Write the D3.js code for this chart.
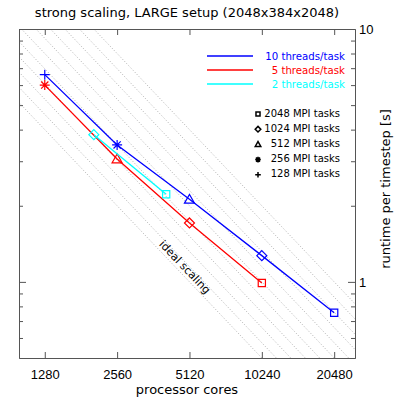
<!DOCTYPE html>
<html>
<head>
<meta charset="utf-8">
<script src="https://cdn.jsdelivr.net/npm/d3@7"></script>
<style>
  body { margin: 0; background: #fff; }
  svg { display: block; font-family: "DejaVu Sans", sans-serif; }
  .axis path, .axis line { stroke: #555; }
  .axis text { font-size: 13px; fill: #000; }
</style>
</head>
<body>
<div id="chart"></div>
<script>
"use strict";

// measured runtimes, one list per threads/task setting
var cores10 = [1280, 2560, 5120, 10240, 20480];
var runtime10 = [6.6, 3.48, 2.12, 1.27, 0.755];
var tasks10 = [128, 256, 512, 1024, 2048];

var cores5 = [1280, 2560, 5120, 10240];
var runtime5 = [6.0, 3.06, 1.71, 0.99];
var tasks5 = [256, 512, 1024, 2048];

var cores2 = [2048, 4096];
var runtime2 = [3.82, 2.22];
var tasks2 = [1024, 2048];

var seriesNames = ['10 threads/task', '5 threads/task', '2 threads/task'];
var seriesColors = ['#0000ff', '#ff0000', '#00ffff'];

var legendTasks = [2048, 1024, 512, 256, 128];

var xTicks = [1280, 2560, 5120, 10240, 20480];
var yMajor = [1, 10];
var yMinor = [0.6, 0.7, 0.8, 0.9, 2, 3, 4, 5, 6, 7, 8, 9];

// constants C of the ideal scaling lines, runtime = C / cores
var idealConst = [5120, 5881, 6756, 7761, 8914, 10240, 11763, 13512, 15521, 17829, 20480];

var W = 399, H = 399;
var L = 19, R = 355, T = 29, B = 358;

var svg = d3.select('#chart').append('svg').attr('width', W).attr('height', H);

var x = d3.scaleLog().domain([1000, 25000]).range([L, R]);
var y = d3.scaleLog().domain([0.5, 10]).range([B, T]);

svg.append('clipPath').attr('id', 'clip')
  .append('rect').attr('x', L).attr('y', T).attr('width', R - L).attr('height', B - T);

var plot = svg.append('g').attr('clip-path', 'url(#clip)');

// ideal scaling guide lines
var xd = x.domain();
plot.selectAll('.ideal').data(idealConst).enter().append('line')
  .attr('class', 'ideal')
  .attr('x1', x(xd[0])).attr('y1', function(c) { return y(c / xd[0]); })
  .attr('x2', x(xd[1])).attr('y2', function(c) { return y(c / xd[1]); })
  .attr('stroke', '#999').attr('stroke-width', 0.8).attr('stroke-dasharray', '1,2');

var angle = Math.atan2(y(1) - y(10), x(10000) - x(1000)) * 180 / Math.PI;
svg.append('text')
  .attr('transform', 'translate(185,267) rotate(' + angle + ')')
  .attr('text-anchor', 'middle').attr('dy', '0.35em')
  .style('font-size', '11px')
  .text('ideal scaling');

function markerPath(tasks, s) {
  var d = s * 0.72;
  if (tasks === 128) return 'M' + (-s) + ',0H' + s + 'M0,' + (-s) + 'V' + s;
  if (tasks === 256) return 'M' + (-s) + ',0H' + s + 'M0,' + (-s) + 'V' + s +
    'M' + (-d) + ',' + (-d) + 'L' + d + ',' + d + 'M' + (-d) + ',' + d + 'L' + d + ',' + (-d);
  if (tasks === 512) return 'M' + (-s) + ',' + (s * 0.75) + 'L0,' + (-s) + 'L' + s + ',' + (s * 0.75) + 'Z';
  if (tasks === 1024) return 'M0,' + (-s) + 'L' + s + ',0L0,' + s + 'L' + (-s) + ',0Z';
  return 'M' + (-d) + ',' + (-d) + 'H' + d + 'V' + d + 'H' + (-d) + 'Z';
}

var series = [
  { cores: cores10, runtime: runtime10, tasks: tasks10 },
  { cores: cores5, runtime: runtime5, tasks: tasks5 },
  { cores: cores2, runtime: runtime2, tasks: tasks2 }
];

var line = d3.line()
  .x(function(d) { return x(d[0]); })
  .y(function(d) { return y(d[1]); });

series.forEach(function(s, i) {
  var pts = d3.zip(s.cores, s.runtime, s.tasks);
  plot.append('path').datum(pts)
    .attr('d', line)
    .attr('fill', 'none').attr('stroke', seriesColors[i]).attr('stroke-width', 1.3);
  plot.selectAll('.m' + i).data(pts).enter().append('path')
    .attr('class', 'm' + i)
    .attr('transform', function(d) { return 'translate(' + x(d[0]) + ',' + y(d[1]) + ')'; })
    .attr('d', function(d) { return markerPath(d[2], 5); })
    .attr('fill', 'none').attr('stroke', seriesColors[i]).attr('stroke-width', 1.2);
});

// axes, ticks pointing inward
svg.append('g').attr('class', 'axis').attr('transform', 'translate(0,' + B + ')')
  .call(d3.axisBottom(x).tickValues(xTicks).tickFormat(d3.format('d'))
    .tickSizeInner(-6).tickSizeOuter(0).tickPadding(12));
svg.append('g').attr('class', 'axis').attr('transform', 'translate(0,' + T + ')')
  .call(d3.axisTop(x).tickValues(xTicks).tickFormat('').tickSizeInner(-6).tickSizeOuter(0));

svg.append('g').attr('class', 'axis').attr('transform', 'translate(' + R + ',0)')
  .call(d3.axisRight(y).tickValues(yMajor).tickFormat(d3.format('d'))
    .tickSizeInner(-7).tickSizeOuter(0).tickPadding(4));
svg.append('g').attr('class', 'axis').attr('transform', 'translate(' + R + ',0)')
  .call(d3.axisRight(y).tickValues(yMinor).tickFormat('').tickSizeInner(-4).tickSizeOuter(0));
svg.append('g').attr('class', 'axis').attr('transform', 'translate(' + L + ',0)')
  .call(d3.axisLeft(y).tickValues(yMajor).tickFormat('').tickSizeInner(-7).tickSizeOuter(0));
svg.append('g').attr('class', 'axis').attr('transform', 'translate(' + L + ',0)')
  .call(d3.axisLeft(y).tickValues(yMinor).tickFormat('').tickSizeInner(-4).tickSizeOuter(0));

svg.append('text').attr('x', (L + R) / 2).attr('y', 17)
  .attr('text-anchor', 'middle').style('font-size', '13px')
  .text('strong scaling, LARGE setup (2048x384x2048)');

svg.append('text').attr('x', (L + R) / 2).attr('y', 394)
  .attr('text-anchor', 'middle').style('font-size', '13px')
  .text('processor cores');

svg.append('text').attr('transform', 'translate(390,189) rotate(-90)')
  .attr('text-anchor', 'middle').style('font-size', '13px')
  .text('runtime per timestep [s]');

// legend: threads per task
var leg = svg.append('g');
seriesNames.forEach(function(name, i) {
  var ly = 56 + i * 14;
  leg.append('line').attr('x1', 207).attr('x2', 253).attr('y1', ly).attr('y2', ly)
    .attr('stroke', seriesColors[i]).attr('stroke-width', 1.3);
  leg.append('text').attr('x', 345).attr('y', ly).attr('dy', '0.35em')
    .attr('text-anchor', 'end').style('font-size', '10.2px')
    .attr('fill', seriesColors[i]).text(name);
});

// legend: MPI tasks symbols
legendTasks.forEach(function(t, i) {
  var ly = 113 + i * 15.2;
  leg.append('path').attr('transform', 'translate(258,' + (ly + 1) + ')')
    .attr('d', markerPath(t, 2.8)).attr('fill', 'none')
    .attr('stroke', '#000').attr('stroke-width', 1.5);
  leg.append('text').attr('x', 340).attr('y', ly).attr('dy', '0.35em')
    .attr('text-anchor', 'end').style('font-size', '10px')
    .text(t + ' MPI tasks');
});
</script>
</body>
</html>
